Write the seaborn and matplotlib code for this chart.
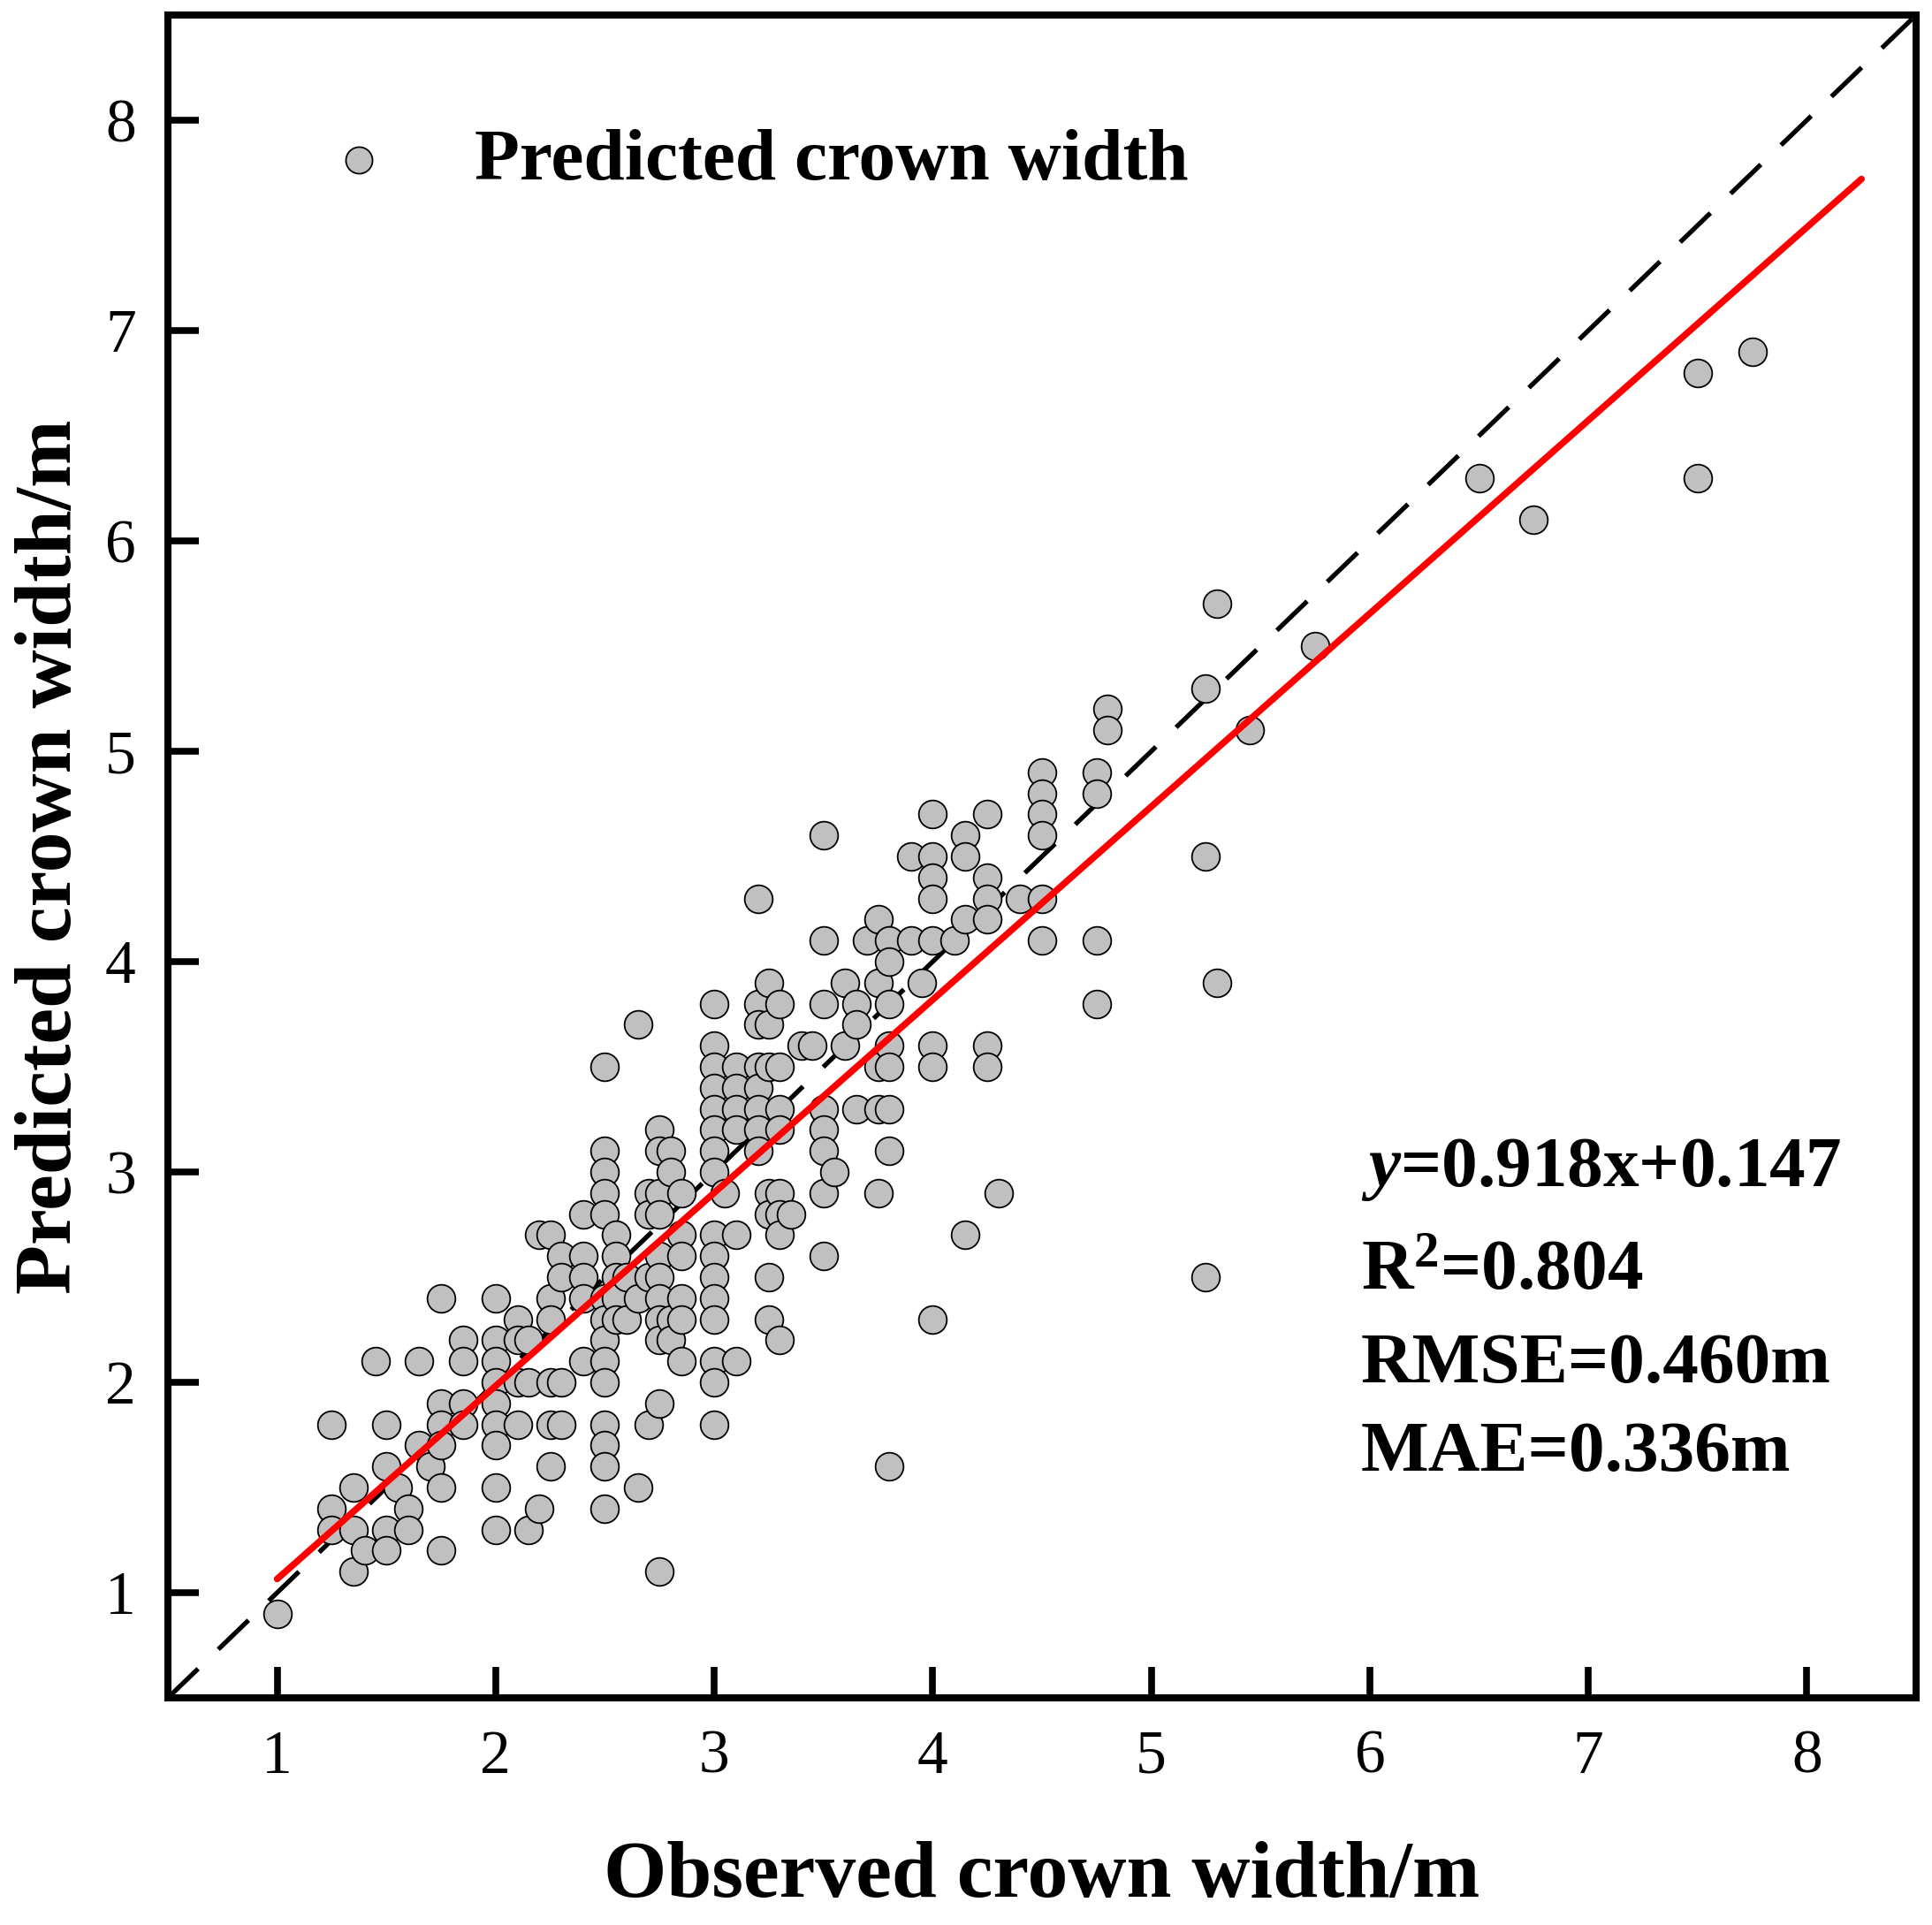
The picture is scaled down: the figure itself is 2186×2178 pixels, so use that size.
import matplotlib
matplotlib.use("Agg")
import matplotlib.pyplot as plt
import seaborn as sns
import numpy as np
import pandas as pd

# ---------------- data ----------------
groups = {
    1.00: [0.9],
    1.25: [1.8, 1.4, 1.3],
    1.35: [1.5, 1.3, 1.1],
    1.40: [1.2],
    1.45: [2.1],
    1.50: [1.8, 1.6, 1.3, 1.2],
    1.55: [1.5],
    1.60: [1.4, 1.3],
    1.65: [2.1, 1.7],
    1.70: [1.6],
    1.75: [2.4, 1.9, 1.8, 1.7, 1.5, 1.2],
    1.85: [2.2, 2.1, 1.9, 1.8],
    2.00: [2.4, 2.2, 2.1, 2.0, 1.9, 1.8, 1.7, 1.5, 1.3],
    2.10: [2.3, 2.2, 2.0, 1.8],
    2.15: [2.2, 2.0, 1.3],
    2.20: [2.7, 1.4],
    2.25: [2.7, 2.4, 2.3, 2.0, 1.8, 1.6],
    2.30: [2.6, 2.5, 2.0, 1.8],
    2.40: [2.8, 2.6, 2.5, 2.4, 2.1],
    2.50: [3.5, 3.1, 3.0, 2.9, 2.8, 2.4, 2.3, 2.2, 2.1, 2.0, 1.8, 1.7, 1.6, 1.4],
    2.55: [2.7, 2.6, 2.5, 2.4, 2.3],
    2.60: [2.5, 2.3],
    2.65: [3.7, 2.4, 1.5],
    2.70: [2.9, 2.8, 2.5, 1.8],
    2.75: [3.2, 3.1, 2.9, 2.8, 2.6, 2.5, 2.4, 2.3, 2.2, 1.9, 1.1],
    2.80: [3.1, 3.0, 2.3, 2.2],
    2.85: [2.9, 2.7, 2.6, 2.4, 2.3, 2.1],
    3.00: [3.8, 3.6, 3.5, 3.4, 3.3, 3.2, 3.1, 3.0, 2.7, 2.6, 2.5, 2.4, 2.3, 2.1, 2.0, 1.8],
    3.05: [2.9],
    3.10: [3.5, 3.4, 3.3, 3.2, 2.7, 2.1],
    3.20: [4.3, 3.8, 3.7, 3.5, 3.4, 3.3, 3.2, 3.1],
    3.25: [3.9, 3.7, 3.5, 2.9, 2.8, 2.5, 2.3],
    3.30: [3.8, 3.5, 3.3, 3.2, 2.9, 2.8, 2.7, 2.2],
    3.35: [2.8],
    3.40: [3.6],
    3.45: [3.6],
    3.50: [4.6, 4.1, 3.8, 3.3, 3.2, 3.1, 2.9, 2.6],
    3.55: [3.0],
    3.60: [3.9, 3.6],
    3.65: [3.8, 3.7, 3.3],
    3.70: [4.1],
    3.75: [4.2, 3.9, 3.5, 3.3, 2.9],
    3.80: [4.1, 4.0, 3.8, 3.6, 3.5, 3.3, 3.1, 1.6],
    3.90: [4.5, 4.1],
    3.95: [3.9],
    4.00: [4.7, 4.5, 4.4, 4.3, 4.1, 3.6, 3.5, 2.3],
    4.10: [4.1],
    4.15: [4.6, 4.5, 4.2, 2.7],
    4.25: [4.7, 4.4, 4.3, 4.2, 3.6, 3.5],
    4.30: [2.9],
    4.40: [4.3],
    4.50: [4.9, 4.8, 4.7, 4.6, 4.3, 4.1],
    4.75: [4.9, 4.8, 4.1, 3.8],
    4.80: [5.2, 5.1],
    5.25: [5.3, 4.5, 2.5],
    5.30: [5.7, 3.9],
    5.45: [5.1],
    5.75: [5.5],
    6.50: [6.3],
    6.75: [6.1],
    7.50: [6.8, 6.3],
    7.75: [6.9],
}
observed = [x for x, ys in groups.items() for _ in ys]
predicted = [y for ys in groups.values() for y in ys]

fit_slope = 0.918
fit_intercept = 0.147
fit_x = [1.0, 8.25]
fit_y = [fit_slope * v + fit_intercept for v in fit_x]
ref_x = [0.5, 8.5]
ref_y = [0.5, 8.5]

ticks = [1, 2, 3, 4, 5, 6, 7, 8]
stats_lines = ["$y$=0.918x+0.147", "R$^{2}$=0.804", "RMSE=0.460m", "MAE=0.336m"]
legend_label = "Predicted crown width"
xlabel = "Observed crown width/m"
ylabel = "Predicted crown width/m"

# ---------------- style ----------------
sns.set_style("ticks")
plt.rcParams["font.family"] = ["Liberation Serif", "DejaVu Serif"]
plt.rcParams["mathtext.fontset"] = "custom"
plt.rcParams["mathtext.rm"] = "Liberation Serif:bold"
plt.rcParams["mathtext.it"] = "Liberation Serif:italic:bold"
plt.rcParams["mathtext.bf"] = "Liberation Serif:bold"
for key in ["text.color", "axes.labelcolor", "xtick.color", "ytick.color",
            "axes.edgecolor"]:
    plt.rcParams[key] = "black"

fig = plt.figure(figsize=(21.86, 21.78), dpi=100)
ax = fig.add_axes([0.0869, 0.118, 0.9049, 0.8742])

df = pd.DataFrame({"obs": observed, "pred": predicted})

sns.lineplot(x=ref_x, y=ref_y, ax=ax, color="black", linewidth=3.8,
             linestyle=(0, (9, 6)), zorder=1)
sns.scatterplot(data=df, x="obs", y="pred", ax=ax, color="#c0c0c0",
                edgecolor="black", linewidth=1.3, s=520, zorder=2,
                label=legend_label)
sns.lineplot(x=fit_x, y=fit_y, ax=ax, color="#ff0000", linewidth=5.4, zorder=3)

ax.set_xlim(0.5, 8.5)
ax.set_ylim(0.5, 8.5)
ax.set_xticks(ticks)
ax.set_yticks(ticks)
ax.set_xticklabels([str(t) for t in ticks])
ax.set_yticklabels([str(t) for t in ticks])
ax.tick_params(direction="in", length=25, width=5.5, labelsize=50,
               pad=26, colors="black")
for sp in ax.spines.values():
    sp.set_visible(True)
    sp.set_linewidth(5.8)
    sp.set_color("black")

ax.set_xlabel(xlabel, fontsize=66, fontweight="bold", color="black")
ax.set_ylabel(ylabel, fontsize=66, fontweight="bold", color="black")
ax.xaxis.set_label_coords(0.5, -0.085)
ax.yaxis.set_label_coords(-0.046, 0.5)

leg = ax.legend(loc="center left", bbox_to_anchor=(0.088, 0.913),
                frameon=False, borderpad=0, borderaxespad=0,
                handlelength=1.0, handletextpad=1.07, markerscale=0.95,
                labelcolor="black",
                prop={"family": "Liberation Serif", "weight": "bold", "size": 60})

ys = [0.3136, 0.2526, 0.1975, 0.145]
for txt, yy in zip(stats_lines, ys):
    ax.text(0.6825, yy, txt, transform=ax.transAxes, ha="left", va="center",
            fontsize=58.5, fontweight="bold", color="black")

fig.savefig("out.png", dpi=100)
